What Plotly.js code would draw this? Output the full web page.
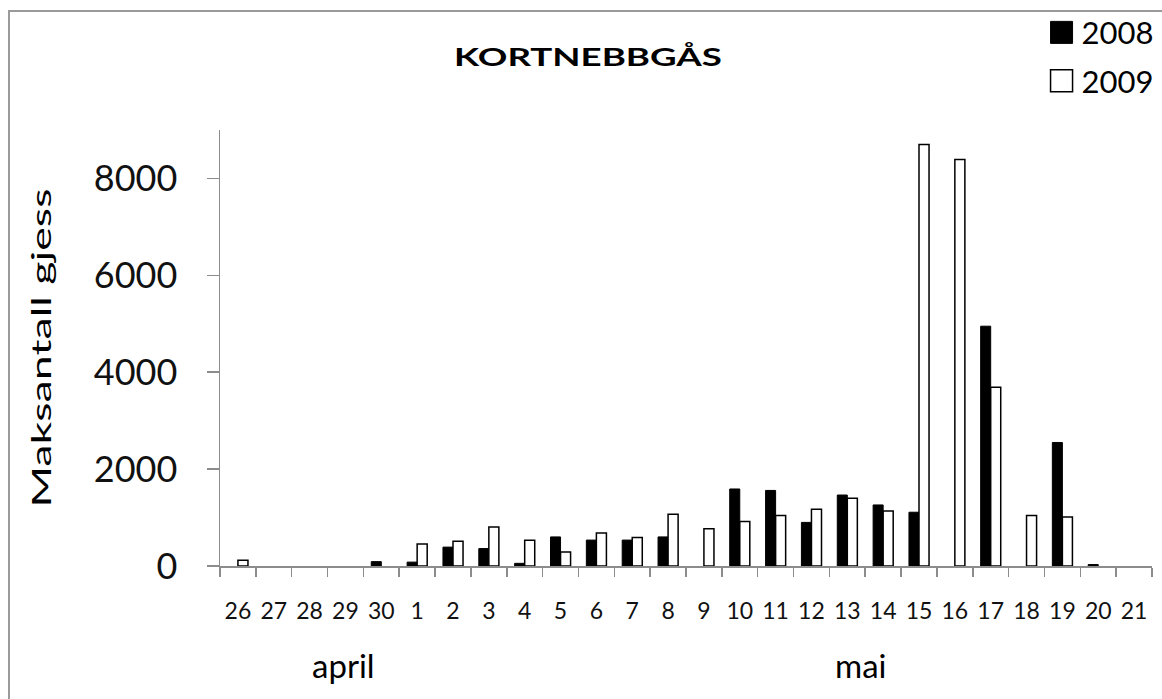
<!DOCTYPE html>
<html>
<head>
<meta charset="utf-8">
<script src="https://cdn.plot.ly/plotly-3.0.1.min.js"></script>
<style>
  html, body { margin: 0; padding: 0; background: #fff; }
  #chart { width: 1162px; height: 699px; }
  #frame { position: absolute; left: 8px; top: 10px; width: 1200px; height: 720px;
           border-left: 2px solid #9a9a9a; border-top: 2px solid #9a9a9a; pointer-events: none; }
</style>
</head>
<body>
<div id="chart"></div>
<div id="frame"></div>
<script>
// Days: 26-30 April, 1-21 May (null = no bar)
const days = ['26','27','28','29','30','1','2','3','4','5','6','7','8','9','10','11','12','13','14','15','16','17','18','19','20','21'];
const values2008 = [null,null,null,null,90,80,390,360,55,600,535,535,600,null,1590,1560,900,1465,1260,1110,null,4950,null,2550,30,null];
const values2009 = [120,null,null,null,null,455,510,805,530,290,680,590,1070,770,920,1045,1170,1400,1135,8700,8390,3690,1045,1010,null,null];
const yTicks = [0,2000,4000,6000,8000];
const monthLabels = ['april','mai'];

const FONT = 'Lato, "Open Sans", sans-serif';

const traces = [
  {
    type: 'bar', name: '2008', x: days, y: values2008, legendgroup: 'a',
    marker: { color: '#000000', line: { color: '#000000', width: 1 } }
  },
  {
    type: 'bar', name: '2009', x: days, y: values2009, legendgroup: 'b',
    marker: { color: '#ffffff', line: { color: '#000000', width: 1.5 } }
  }
];

const layout = {
  width: 1162, height: 699,
  margin: { l: 220, r: 10, t: 130, b: 133, autoexpand: false },
  paper_bgcolor: '#ffffff', plot_bgcolor: '#ffffff',
  font: { family: FONT, color: '#000000' },
  barmode: 'group', bargap: 0.44, bargroupgap: 0,
  showlegend: true,
  title: {
    text: '<b>KORTNEBBGÅS</b>',
    font: { family: FONT, size: 24, color: '#000' },
    xref: 'container', x: 0.506, xanchor: 'center',
    yref: 'container', y: 0.917, yanchor: 'middle'
  },
  legend: {
    x: 0.8815, xanchor: 'left', y: 1.285, yanchor: 'top',
    font: { family: FONT, size: 31, color: '#000' },
    bgcolor: 'rgba(0,0,0,0)', borderwidth: 0,
    traceorder: 'grouped', tracegroupgap: 5,
    itemclick: false
  },
  xaxis: {
    type: 'category', automargin: false,
    showline: true, linecolor: '#8c8c8c', linewidth: 1.5,
    ticks: 'outside', tickson: 'boundaries', ticklen: 9, tickcolor: '#8c8c8c', tickwidth: 1.5,
    ticklabelstandoff: 24, tickangle: 0,
    tickfont: { family: FONT, size: 23, color: '#111' },
    showgrid: false, zeroline: false, fixedrange: true
  },
  yaxis: {
    range: [0, 9000], automargin: false,
    tickvals: yTicks, ticktext: yTicks.map(String),
    showline: true, linecolor: '#8c8c8c', linewidth: 1.5,
    ticks: 'outside', ticklen: 12, tickcolor: '#8c8c8c', tickwidth: 1.5,
    ticklabelstandoff: 22,
    tickfont: { family: FONT, size: 36, color: '#111' },
    showgrid: false, zeroline: false, fixedrange: true,
    title: { text: 'Maksantall gjess', font: { family: FONT, size: 26, color: '#000' }, standoff: 34 }
  },
  annotations: [
    { text: monthLabels[0], xref: 'paper', yref: 'paper', x: 0.133, y: -0.227,
      xanchor: 'center', yanchor: 'middle', showarrow: false,
      font: { family: FONT, size: 33, color: '#000' } },
    { text: monthLabels[1], xref: 'paper', yref: 'paper', x: 0.687, y: -0.227,
      xanchor: 'center', yanchor: 'middle', showarrow: false,
      font: { family: FONT, size: 33, color: '#000' } }
  ]
};

function stretchText(el, factor) {
  if (!el) return;
  const x = parseFloat(el.getAttribute('x')) || 0;
  const tr = el.getAttribute('transform') || '';
  el.setAttribute('transform', tr + ' translate(' + x + ',0) scale(' + factor + ',1) translate(' + (-x) + ',0)');
}

Plotly.newPlot('chart', traces, layout, { displayModeBar: false, staticPlot: true }).then(function (gd) {
  // larger legend swatches, as in the original
  gd.querySelectorAll('.legend .legendpoints path').forEach(function (p) {
    p.setAttribute('d', 'M11,11H-11V-11H11Z');
  });
  // the original's titles are drawn stretched along their reading direction
  stretchText(gd.querySelector('.gtitle'), 1.53);
  stretchText(gd.querySelector('.ytitle'), 1.72);
});
</script>
</body>
</html>
